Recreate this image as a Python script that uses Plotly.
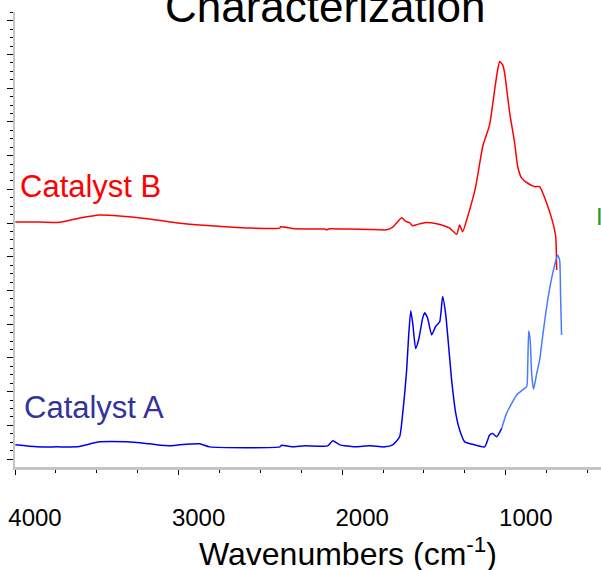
import plotly.graph_objects as go

# Catalyst B (red) spectrum: wavenumber (cm-1) and absorbance (a.u., offset)
wn_b = [3998, 3849, 3727, 3604, 3482, 3360, 3177, 2993, 2871, 2779, 2688, 2565,
        2382, 2376, 2290, 2107, 2095, 2076, 1954, 1832, 1728, 1691, 1636, 1612,
        1588, 1569, 1539, 1496, 1423, 1374, 1343, 1300, 1282, 1264, 1233, 1184,
        1141, 1099, 1068, 1050, 1037, 1019, 1007, 976, 946, 927, 903, 866, 824,
        793, 750, 714, 695, 689]
ab_b = [7.03, 7.03, 7.02, 7.15, 7.24, 7.21, 7.12, 6.99, 6.94, 6.91, 6.88, 6.85,
        6.85, 6.89, 6.83, 6.82, 6.80, 6.83, 6.82, 6.81, 6.80, 6.88, 7.16, 7.05,
        7.01, 6.92, 6.96, 7.01, 6.98, 6.91, 6.85, 6.67, 6.94, 6.74, 7.19, 8.08,
        9.27, 9.91, 10.95, 11.54, 11.79, 11.69, 11.45, 10.26, 9.38, 8.67, 8.33,
        8.18, 8.08, 8.08, 7.59, 7.04, 6.60, 5.61]

# Catalyst A (blue) spectrum, main region
wn_a = [3998, 3867, 3745, 3623, 3482, 3317, 3177, 3054, 2993, 2871, 2810, 2382,
        2370, 2309, 2229, 2089, 2058, 2015, 1924, 1832, 1740, 1691, 1649, 1630,
        1618, 1606, 1594, 1581, 1569, 1551, 1533, 1508, 1496, 1478, 1453, 1429,
        1404, 1386, 1368, 1349, 1331, 1306, 1282, 1251, 1190, 1129, 1099, 1080,
        1056, 1025]
ab_a = [0.42, 0.36, 0.36, 0.36, 0.51, 0.51, 0.45, 0.39, 0.42, 0.45, 0.36, 0.36,
        0.41, 0.36, 0.39, 0.39, 0.54, 0.42, 0.36, 0.39, 0.36, 0.42, 0.66, 1.36,
        1.95, 2.64, 3.63, 4.40, 4.03, 3.28, 3.53, 4.18, 4.34, 4.18, 3.68, 3.93,
        4.07, 4.82, 4.32, 3.33, 2.34, 1.36, 0.86, 0.51, 0.42, 0.36, 0.71, 0.76,
        0.66, 0.91]

# Catalyst A (blue) spectrum, fingerprint region
wn_a_fp = [1025, 995, 964, 934, 897, 872, 866, 860, 851, 842, 830, 811, 793,
           775, 750, 726, 701, 683, 671, 665, 659]
ab_a_fp = [0.91, 1.36, 1.65, 1.90, 2.05, 2.15, 2.74, 3.80, 3.53, 2.54, 2.07,
           2.54, 2.94, 3.63, 4.52, 5.21, 5.76, 6.05, 5.91, 4.82, 3.68]

x_tick_vals = [4000, 3000, 2000, 1000]
x_tick_text = ["4000", "3000", "2000", "1000"]
series_labels = ["Catalyst A", "Catalyst B"]

FONT = "Liberation Sans, Arial, sans-serif"

fig = go.Figure()
fig.add_trace(go.Scatter(x=wn_b, y=ab_b, mode="lines",
                         line=dict(color="#ff0000", width=1.5, shape="spline", smoothing=0.5),
                         showlegend=False))
fig.add_trace(go.Scatter(x=wn_a, y=ab_a, mode="lines",
                         line=dict(color="#0000f0", width=1.5, shape="spline", smoothing=0.5),
                         showlegend=False))
fig.add_trace(go.Scatter(x=wn_a_fp, y=ab_a_fp, mode="lines",
                         line=dict(color="#4a7bff", width=1.5, shape="spline", smoothing=0.5),
                         showlegend=False))

fig.update_layout(
    width=601, height=570,
    margin=dict(l=15, r=0, t=12, b=103),
    paper_bgcolor="white", plot_bgcolor="white",
    font=dict(family=FONT, color="black"),
    showlegend=False,
)

fig.update_xaxes(
    range=[4000, 418],
    showgrid=False, zeroline=False,
    showline=True, linecolor="#c4c4c4", linewidth=3,
    tickmode="array", tickvals=x_tick_vals, ticktext=x_tick_text,
    ticks="outside", ticklen=5, tickcolor="black", tickwidth=1,
    minor=dict(dtick=250, tick0=0, ticks="outside", ticklen=3,
               tickcolor="black", tickwidth=1, showgrid=False),
    tickfont=dict(size=24, family=FONT, color="black"),
    ticklabelstandoff=22, ticklabelshift=-20,
)
fig.update_yaxes(
    range=[-0.237, 13.26],
    showgrid=False, zeroline=False,
    showline=True, linecolor="#c4c4c4", linewidth=2,
    tickmode="linear", tick0=0, dtick=1,
    ticks="outside", ticklen=6, tickcolor="black", tickwidth=1,
    minor=dict(dtick=0.25, tick0=0, ticks="outside", ticklen=3,
               tickcolor="black", tickwidth=1, showgrid=False),
    showticklabels=False,
)

fig.add_annotation(text="Characterization", xref="paper", yref="paper",
                   x=0.529, y=1.011, xanchor="center", yanchor="middle",
                   showarrow=False, font=dict(size=44, family=FONT, color="black"))
fig.add_annotation(text="Wavenumbers (cm<sup>-1</sup>)", xref="paper", yref="paper",
                   x=0.568, y=-0.187, xanchor="center", yanchor="middle",
                   showarrow=False, font=dict(size=32, family=FONT, color="black"))
fig.add_annotation(text=series_labels[1], xref="paper", yref="paper",
                   x=0.005, y=0.6165, xanchor="left", yanchor="middle",
                   showarrow=False, font=dict(size=31, family=FONT, color="#ff0000"))
fig.add_annotation(text=series_labels[0], xref="paper", yref="paper",
                   x=0.012, y=0.1308, xanchor="left", yanchor="middle",
                   showarrow=False, font=dict(size=31, family=FONT, color="#333399"))
fig.add_annotation(text="I", xref="paper", yref="paper",
                   x=0.988, y=0.5505, xanchor="left", yanchor="middle",
                   showarrow=False, font=dict(size=24, family=FONT, color="#1e9b1e"))

fig.write_html("out.html")
